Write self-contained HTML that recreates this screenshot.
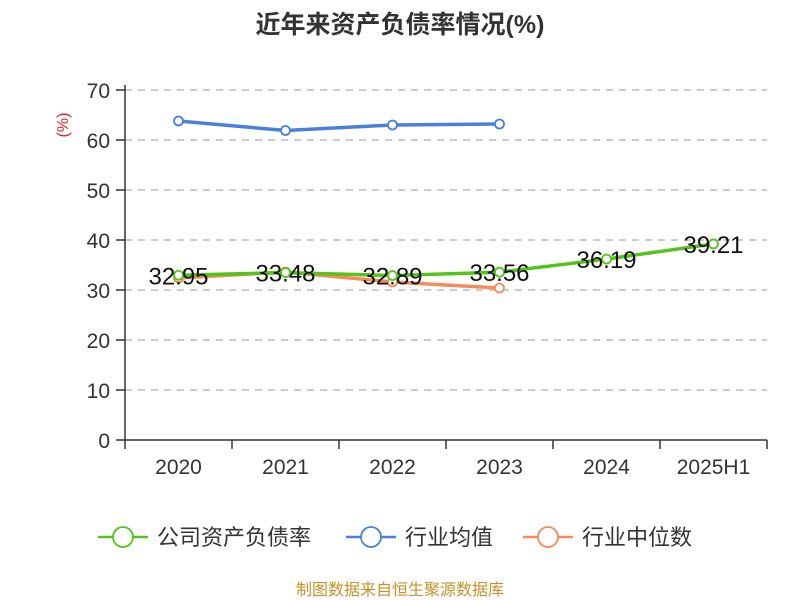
<!DOCTYPE html>
<html><head><meta charset="utf-8"><style>
body{margin:0;background:#fff;}
svg{display:block;font-family:"Liberation Sans","Noto Sans CJK SC",sans-serif;}
</style></head><body>
<svg id="c" width="800" height="600">
<text x="400" y="33" text-anchor="middle" font-size="25" font-weight="bold" fill="#333">近年来资产负债率情况(%)</text>
<text x="68" y="125" font-size="16" fill="#e02020" transform="rotate(-90 68 125)" text-anchor="middle">(%)</text>
<g id="grid"></g><g id="axes"></g><g id="series"></g>
<g>
<g><line x1="98" y1="537" x2="148" y2="537" stroke="#52c41a" stroke-width="2.5"/><circle cx="123" cy="537" r="10" fill="#fff" stroke="#52c41a" stroke-width="1.8"/><text x="157" y="545" font-size="22" fill="#333">公司资产负债率</text></g>
<g><line x1="346" y1="537" x2="396" y2="537" stroke="#4a7fdc" stroke-width="2.5"/><circle cx="371" cy="537" r="10" fill="#fff" stroke="#4a7fdc" stroke-width="1.8"/><text x="405" y="545" font-size="22" fill="#333">行业均值</text></g>
<g><line x1="523" y1="537" x2="573" y2="537" stroke="#f58b5a" stroke-width="2.5"/><circle cx="548" cy="537" r="10" fill="#fff" stroke="#f58b5a" stroke-width="1.8"/><text x="582" y="545" font-size="22" fill="#333">行业中位数</text></g>
</g>
<text x="400" y="595" text-anchor="middle" font-size="16" fill="#c8902a">制图数据来自恒生聚源数据库</text>
</svg>
<script>
const categories=["2020","2021","2022","2023","2024","2025H1"];
const companyVals=[32.95,33.48,32.89,33.56,36.19,39.21];
const avgVals=[63.8,61.9,63.0,63.2];
const medianVals=[32.4,33.6,31.6,30.4];
const yTicks=[0,10,20,30,40,50,60,70];
const NS="http://www.w3.org/2000/svg";
const x0=125,x1=767,yBase=440,yTop=90,yMax=70;
const bw=(x1-x0)/categories.length;
const xs=i=>x0+bw*(i+0.5);
const ys=v=>yBase-(v/yMax)*(yBase-yTop);
function mk(t,a,p){const e=document.createElementNS(NS,t);for(const k in a)e.setAttribute(k,a[k]);p.appendChild(e);return e;}
const grid=document.getElementById('grid'),axes=document.getElementById('axes'),ser=document.getElementById('series');
yTicks.forEach(v=>{
 if(v>0){const g=mk('line',{x1:x0,x2:x1,y1:ys(v),y2:ys(v),stroke:'#bbb','stroke-width':1.5,'stroke-dasharray':'7,6'},grid);
 
 }
 const t=mk('line',{x1:x0-9,x2:x0,y1:ys(v),y2:ys(v),stroke:'#333','stroke-width':1.5},axes);
 
 
 const l=mk('text',{x:x0-15,y:ys(v)+8,'text-anchor':'end','font-size':21,fill:'#333'},axes);l.textContent=v;
 
 
});
const ya=mk('line',{x1:x0,x2:x0,y1:yTop-5,y2:yBase,stroke:'#333','stroke-width':1.5},axes);


const xa=mk('line',{x1:x0,x2:x1,y1:yBase,y2:yBase,stroke:'#333','stroke-width':1.5},axes);


for(let i=0;i<=categories.length;i++){const t=mk('line',{x1:x0+bw*i,x2:x0+bw*i,y1:yBase,y2:yBase+9,stroke:'#333','stroke-width':1.5},axes);
 
 }
categories.forEach((c,i)=>{const l=mk('text',{x:xs(i),y:474,'text-anchor':'middle','font-size':21,fill:'#333'},axes);l.textContent=c;
 
 });
function line(vals,color,name,labels){
 const g=mk('g',{},ser);
 
 
 mk('polyline',{points:vals.map((v,i)=>xs(i)+','+ys(v)).join(' '),fill:'none',stroke:color,'stroke-width':3.5},g);
 vals.forEach((v,i)=>{const p=mk('circle',{cx:xs(i),cy:ys(v),r:4.5,fill:'#fff',stroke:color,'stroke-width':1.8},g);
  
  
  if(labels){const t=mk('text',{x:xs(i),y:ys(v)+9,'text-anchor':'middle','font-size':24,fill:'#111'},g);t.textContent=v.toFixed(2);
  
  }
 });
}
line(avgVals,'#4a7fdc','industry-avg-line',false);
line(medianVals,'#f58b5a','industry-median-line',false);
line(companyVals,'#52c41a','company-line',true);
</script>
</body></html>
